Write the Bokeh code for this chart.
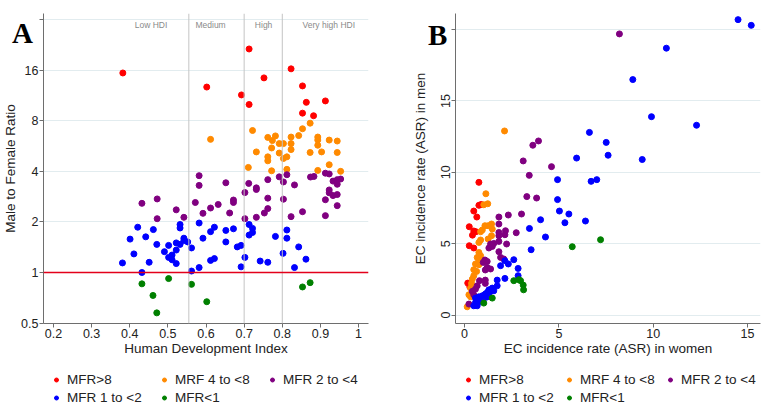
from bokeh.plotting import figure
from bokeh.models import (Range1d, FixedTicker, CustomJSTickFormatter, Span, Label,
                          Legend, LegendItem, Div)
from bokeh.layouts import row, column
from bokeh.embed import file_html
from bokeh.resources import INLINE

FONT = "Liberation Sans"

groups = ["MFR>8", "MRF 4 to <8", "MFR 2 to <4", "MFR 1 to <2", "MFR<1"]
colors = ["#ff0000", "#ff8a00", "#800080", "#0000ff", "#008000"]
panel_letters = ["A", "B"]

# ---------------- Panel A: HDI vs male-to-female ratio ----------------
a_red_hdi = [0.382, 0.713, 0.602, 0.693, 0.713, 0.752, 0.823, 0.853, 0.863, 0.913, 0.853, 0.882]
a_red_mfr = [15.4, 21.4, 12.7, 11.4, 10.0, 14.4, 16.3, 12.9, 10.3, 10.5, 8.88, 8.57]

a_orange_hdi = [0.612, 0.722, 0.711, 0.732, 0.762, 0.774, 0.782, 0.772, 0.762, 0.762, 0.772, 0.792,
                0.803, 0.792, 0.803, 0.812, 0.812, 0.823, 0.823, 0.823, 0.843, 0.853, 0.873, 0.893,
                0.893, 0.893, 0.873, 0.903, 0.893, 0.923, 0.944, 0.944, 0.923, 0.953]
a_orange_mfr = [6.2, 7.0, 4.22, 5.22, 6.37, 6.1, 6.5, 5.51, 4.88, 4.62, 4.03, 5.85,
                5.85, 5.14, 4.77, 4.88, 4.11, 6.4, 5.85, 5.39, 6.53, 7.17, 7.74, 6.4,
                6.14, 5.72, 5.18, 5.22, 4.05, 6.14, 6.06, 5.18, 4.38, 4.0]

a_purple_hdi = [0.582, 0.582, 0.652, 0.712, 0.702, 0.732, 0.732, 0.762, 0.792, 0.803, 0.812, 0.832,
                0.874, 0.883, 0.913, 0.923, 0.933, 0.944, 0.953, 0.944, 0.923, 0.923, 0.933, 0.944,
                0.913, 0.944, 0.913, 0.803, 0.762, 0.762, 0.753, 0.732, 0.702, 0.823, 0.853, 0.672,
                0.672, 0.662, 0.632, 0.612, 0.592, 0.572, 0.542, 0.522, 0.472, 0.432, 0.472]
a_purple_mfr = [3.77, 3.3, 3.42, 3.39, 2.99, 3.19, 3.12, 3.57, 3.71, 3.46, 3.82, 3.32,
                3.7, 3.73, 3.9, 3.86, 3.5, 3.57, 3.6, 3.35, 3.1, 2.98, 2.87, 2.91,
                2.71, 2.5, 2.18, 2.73, 2.77, 2.4, 2.26, 2.13, 2.09, 2.15, 2.3, 2.7,
                2.61, 2.26, 2.54, 2.42, 2.25, 2.61, 2.13, 2.36, 2.74, 2.58, 2.09]

a_blue_hdi = [0.381, 0.401, 0.411, 0.421, 0.432, 0.442, 0.451, 0.462, 0.471, 0.491, 0.502, 0.502,
              0.511, 0.511, 0.522, 0.522, 0.522, 0.532, 0.532, 0.532, 0.542, 0.542, 0.552, 0.562,
              0.562, 0.582, 0.582, 0.592, 0.612, 0.612, 0.622, 0.622, 0.652, 0.652, 0.672, 0.682,
              0.692, 0.692, 0.702, 0.713, 0.713, 0.722, 0.722, 0.742, 0.762, 0.782, 0.802, 0.812,
              0.812, 0.832, 0.843, 0.862]
a_blue_mfr = [1.14, 1.58, 1.29, 1.86, 1.0, 1.63, 1.15, 1.8, 1.47, 1.33, 1.45, 1.23,
              1.27, 1.19, 1.5, 1.36, 1.13, 1.93, 1.84, 1.47, 1.6, 1.55, 1.52, 1.4,
              1.02, 1.97, 1.07, 1.6, 1.75, 1.18, 1.21, 1.86, 1.52, 1.78, 1.82, 1.42,
              1.45, 1.08, 1.23, 1.93, 1.67, 1.83, 1.73, 1.17, 1.15, 1.64, 1.3, 1.79,
              1.6, 1.07, 1.42, 1.2]

a_green_hdi = [0.432, 0.461, 0.471, 0.502, 0.562, 0.602, 0.853, 0.873]
a_green_mfr = [0.856, 0.73, 0.575, 0.92, 0.85, 0.67, 0.82, 0.87]

a_y_ticks = [0.5, 1, 2, 4, 8, 16, 32]
a_x_ticks = [0.2, 0.3, 0.4, 0.5, 0.6, 0.7, 0.8, 0.9, 1.0]
hdi_cuts = [0.555, 0.7, 0.8]
hdi_names = ["Low HDI", "Medium", "High", "Very high HDI"]
hdi_name_x = [0.456, 0.612, 0.751, 0.922]

# ---------------- Panel B: women vs men incidence ----------------
b_red_w = [0.76, 0.76, 0.88, 0.49, 0.65, 0.25, 0.49, 0.60, 0.42, 0.25, 0.49, 0.17, 0.28]
b_red_m = [9.3, 7.69, 7.75, 7.29, 6.87, 6.19, 5.89, 5.84, 5.60, 4.86, 4.70, 2.24, 1.98]

b_orange_w = [2.12, 1.13, 1.02, 1.23, 1.43, 1.25, 1.08, 0.94, 0.85, 1.47, 1.43, 1.25, 0.85, 0.76,
              0.76, 0.85, 0.67, 0.76, 0.94, 0.58, 0.76, 0.49, 0.64, 0.49, 0.41, 0.37, 0.32, 0.23,
              0.32, 0.14]
b_orange_m = [12.9, 8.5, 7.73, 7.8, 6.38, 6.26, 6.26, 5.96, 5.84, 6.03, 5.56, 5.33, 5.26, 5.09,
              4.39, 4.16, 4.04, 3.81, 3.81, 3.58, 3.53, 3.18, 3.06, 2.76, 2.52, 2.22, 1.89, 1.42,
              1.28, 0.58]

b_purple_w = [8.21, 3.11, 3.62, 3.92, 3.43, 4.61, 3.30, 3.82, 1.82, 2.32, 3.02, 1.82, 1.82, 2.17,
              2.14, 2.74, 1.82, 1.38, 1.47, 1.29, 1.55, 1.82, 2.23, 1.82, 1.91, 2.08, 1.08, 1.20,
              0.99, 1.20, 1.38, 1.10, 0.79, 1.10, 1.10, 0.67, 0.58, 0.41, 0.49, 0.67, 0.23]
b_purple_m = [19.7, 10.8, 11.9, 12.2, 9.79, 10.4, 8.3, 8.2, 6.87, 7.01, 7.08, 6.38, 5.79, 5.91,
              5.63, 5.77, 5.56, 4.98, 4.81, 4.70, 5.02, 5.16, 4.98, 4.44, 4.04, 3.93, 3.86, 3.76,
              3.69, 3.34, 3.23, 3.16, 2.41, 2.45, 2.22, 2.05, 1.82, 1.66, 1.42, 1.23, 0.77]

b_blue_w = [14.5, 15.2, 10.7, 8.92, 9.91, 12.3, 6.62, 7.51, 7.61, 5.94, 9.42, 4.93, 6.71, 7.01,
            4.93, 5.03, 5.53, 5.32, 6.41, 4.03, 3.44, 4.29, 3.53, 2.14, 2.61, 1.91, 2.32, 2.84,
            2.84, 2.14, 1.73, 1.73, 1.47, 1.29, 1.55, 1.20, 1.08, 0.94, 0.76, 0.58, 0.85, 0.58,
            0.49, 0.67, 1.10, 1.38, 0.70, 1.00, 1.30, 0.85, 1.15, 0.62]
b_blue_m = [20.7, 20.3, 18.7, 16.5, 13.9, 13.3, 12.8, 12.1, 11.2, 11.0, 10.9, 9.49, 9.37, 9.49,
            8.09, 7.29, 7.08, 6.47, 6.59, 6.68, 6.07, 5.47, 4.58, 3.81, 3.88, 3.46, 3.58, 3.27,
            2.76, 2.57, 2.45, 2.05, 1.89, 1.77, 1.70, 1.58, 1.42, 1.35, 1.28, 1.19, 1.12, 0.88,
            0.65, 0.65, 1.47, 1.66, 1.00, 1.20, 1.30, 0.95, 1.25, 0.78]

b_green_w = [7.21, 5.71, 2.61, 2.88, 2.97, 3.11, 3.13, 1.47, 1.02]
b_green_m = [5.28, 4.79, 2.41, 2.48, 2.41, 2.10, 1.77, 1.19, 0.84]

b_x_ticks = [0, 5, 10, 15]
b_y_ticks = [0, 5, 10, 15, 20]

AXIS_COL = "#6e6e6e"
GRID_COL = "#e2ecef"
MAIN_H = 370
LEG_H = 35


def style_axes(p):
    for ax in (p.xaxis[0], p.yaxis[0]):
        ax.axis_line_color = AXIS_COL
        ax.major_tick_line_color = AXIS_COL
        ax.minor_tick_line_color = None
        ax.major_tick_out = 4
        ax.major_tick_in = 0
        ax.major_label_text_font = FONT
        ax.major_label_text_font_size = "12.5px"
        ax.major_label_text_color = "#222222"
        ax.axis_label_text_font = FONT
        ax.axis_label_text_font_size = "13.5px"
        ax.axis_label_text_font_style = "normal"
        ax.axis_label_text_color = "#222222"
        ax.major_label_standoff = 1
        ax.axis_label_standoff = 0
    p.xgrid.visible = False
    p.ygrid.grid_line_color = GRID_COL
    p.ygrid.grid_line_width = 1
    p.outline_line_color = None
    p.background_fill_color = "white"
    p.border_fill_color = "white"


def letter_div(letter, left, top):
    html = ("<span style=\"font-family:'Liberation Serif',serif;font-weight:bold;"
            "font-size:29px;line-height:29px;color:black;\">%s</span>" % letter)
    return Div(text=html, width=26, height=32, margin=0,
               styles={"position": "absolute", "left": "%dpx" % left, "top": "%dpx" % top,
                       "z-index": "10", "overflow": "visible"})


def legend_fig(width, x_off, label_width):
    lf = figure(width=width, height=LEG_H, x_range=Range1d(0, 1), y_range=Range1d(0, 1),
                x_axis_location=None, y_axis_location=None, min_border=0,
                output_backend="svg", toolbar_location=None)
    lf.outline_line_color = None
    lf.grid.visible = False
    # one point far outside the visible range so that only the legend shows the glyph
    rs = [lf.scatter(x=[-5], y=[-5], size=6, fill_color=c, line_color=c) for c in colors]
    items = [LegendItem(label=g, renderers=[r]) for g, r in zip(groups, rs)]
    leg = Legend(items=items, orientation="horizontal", ncols=3, location=(x_off, 0),
                 margin=0, padding=1, spacing=3,
                 glyph_width=10, glyph_height=15, label_height=15, label_standoff=6,
                 label_width=label_width,
                 label_text_font=FONT, label_text_font_size="13.5px",
                 label_text_color="#222222",
                 border_line_color=None, background_fill_alpha=0)
    lf.add_layout(leg)
    return lf


# ---------------- build panel A ----------------
pA = figure(width=390, height=MAIN_H, y_axis_type="log",
            x_range=Range1d(0.174, 1.026), y_range=Range1d(0.497, 34.8),
            output_backend="svg", toolbar_location=None,
            min_border_left=43, min_border_right=22, min_border_top=13,
            min_border_bottom=MAIN_H - 325)
style_axes(pA)
pA.xaxis.axis_label = "Human Development Index"
pA.yaxis.axis_label = "Male to Female Ratio"
pA.xaxis.ticker = FixedTicker(ticks=a_x_ticks)
pA.yaxis.ticker = FixedTicker(ticks=a_y_ticks)
pA.ygrid.ticker = FixedTicker(ticks=a_y_ticks)
pA.xaxis.formatter = CustomJSTickFormatter(code="return String(Math.round(tick*10)/10);")
pA.yaxis.formatter = CustomJSTickFormatter(code="return tick >= 32 ? '' : String(tick);")

for c in hdi_cuts:
    pA.add_layout(Span(location=c, dimension="height", line_color="#c4c4c4", line_width=1))
pA.add_layout(Span(location=1, dimension="width", line_color="#e3001b", line_width=1.5))
for nm, xx in zip(hdi_names, hdi_name_x):
    pA.add_layout(Label(x=xx, y=29.6, text=nm, text_align="center", text_baseline="middle",
                        text_font=FONT, text_font_size="8.5px", text_color="#8a8a8a"))

a_sets = [(a_red_hdi, a_red_mfr), (a_orange_hdi, a_orange_mfr), (a_purple_hdi, a_purple_mfr),
          (a_blue_hdi, a_blue_mfr), (a_green_hdi, a_green_mfr)]
for (xs, ys), col in zip(a_sets, colors):
    pA.scatter(xs, ys, size=6, fill_color=col, line_color=col)

# ---------------- build panel B ----------------
pB = figure(width=380, height=MAIN_H,
            x_range=Range1d(-0.48, 15.69), y_range=Range1d(-0.59, 21.13),
            output_backend="svg", toolbar_location=None,
            min_border_left=65, min_border_right=10, min_border_top=13,
            min_border_bottom=MAIN_H - 323)
style_axes(pB)
pB.xaxis.axis_label = "EC incidence rate (ASR) in women"
pB.yaxis.axis_label = "EC incidence rate (ASR) in men"
pB.xaxis.ticker = FixedTicker(ticks=b_x_ticks)
pB.yaxis.ticker = FixedTicker(ticks=b_y_ticks)
pB.ygrid.ticker = FixedTicker(ticks=b_y_ticks)
pB.yaxis.formatter = CustomJSTickFormatter(code="return tick >= 20 ? '' : String(tick);")
pB.yaxis.major_label_orientation = "vertical"
pB.yaxis.axis_label_standoff = 11

b_sets = [(b_red_w, b_red_m), (b_orange_w, b_orange_m), (b_purple_w, b_purple_m),
          (b_blue_w, b_blue_m), (b_green_w, b_green_m)]
for (xs, ys), col in zip(b_sets, colors):
    pB.scatter(xs, ys, size=6, fill_color=col, line_color=col)

legA = legend_fig(390, 51, 89)
legB = legend_fig(380, 73, 82)

divA = letter_div(panel_letters[0], 12, 19)
divB = letter_div(panel_letters[1], 428, 21)

layout = column(row(pA, pB), row(legA, legB), divA, divB)
open("out.html", "w").write(file_html(layout, INLINE))
